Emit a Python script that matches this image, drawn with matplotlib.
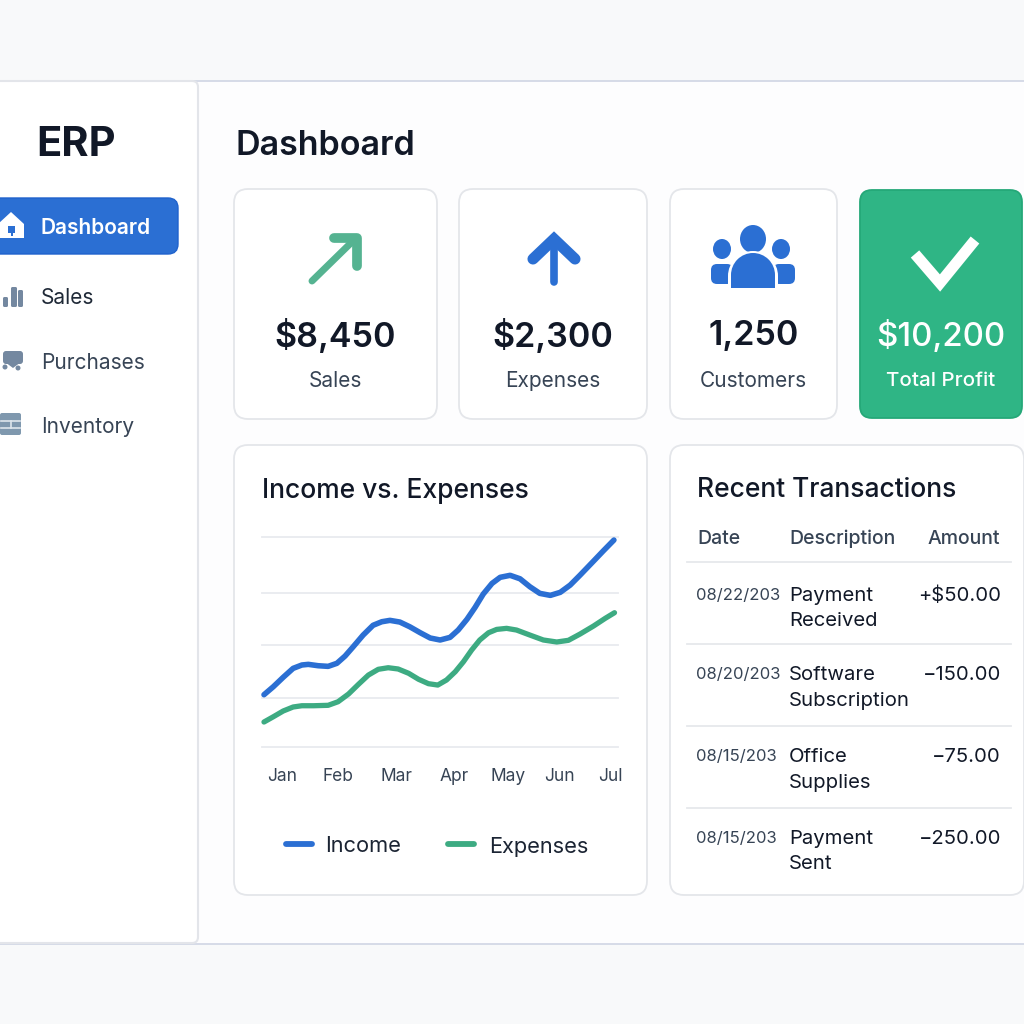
# -*- coding: utf-8 -*-
import matplotlib
matplotlib.use('Agg')
import matplotlib.pyplot as plt
from matplotlib.patches import FancyBboxPatch, Rectangle, Circle, Ellipse, Polygon, Wedge

plt.rcParams['font.family'] = ['Inter', 'DejaVu Sans']

# chart data
months = ['Jan', 'Feb', 'Mar', 'Apr', 'May', 'Jun', 'Jul']
month_ticks = [0.31, 1.27, 2.27, 3.26, 4.19, 5.06, 5.94]
grid_values = [0, 47, 97, 147, 200]

income_x = [0, .16, .33, .50, .65, .76, .93, 1.10, 1.25, 1.39, 1.53, 1.70, 1.87, 2.02, 2.16, 2.33, 2.50, 2.68, 2.85,
            3.02, 3.19, 3.33, 3.48, 3.62, 3.76, 3.91, 4.05, 4.22, 4.39, 4.56, 4.73, 4.91, 5.08, 5.25, 5.42, 5.65, 5.82, 6.0]
income_y = [49.8, 57.4, 66.4, 74.9, 78.1, 78.7, 77.4, 76.8, 79.7, 86.6, 95.5, 106.6, 115.9, 119.3, 120.6, 119, 114.5, 108.8, 103.8,
            101.9, 104.4, 111.4, 121.6, 133, 145.7, 155.8, 161.6, 163.5, 160.2, 152.6, 146.3, 144.4, 147.3, 154.2, 163.7, 177, 186.9, 197.1]
expenses_x = [0, .16, .33, .50, .65, .85, 1.10, 1.27, 1.45, 1.62, 1.79, 1.96, 2.13, 2.30, 2.48, 2.65, 2.82, 2.98,
              3.13, 3.28, 3.42, 3.56, 3.70, 3.85, 3.99, 4.16, 4.33, 4.56, 4.79, 5.02, 5.22, 5.42, 5.65, 5.85, 6.01]
expenses_y = [23.8, 28.8, 34.3, 38.1, 39.3, 39.3, 39.7, 43.1, 50.5, 59.7, 68.5, 74, 75.5, 74.3, 70.2, 64.5, 60.3, 59,
              63.8, 71.7, 81.2, 92.3, 101.9, 108.8, 112, 113, 111.4, 106.6, 101.9, 100, 101.6, 107.6, 115.2, 122.5, 127.9]

# cards and table
kpi_values = ['$8,450', '$2,300', '1,250', '$10,200']
kpi_labels = ['Sales', 'Expenses', 'Customers', 'Total Profit']
nav_items = ['Dashboard', 'Sales', 'Purchases', 'Inventory']
tx_dates = ['08/22/203', '08/20/203', '08/15/203', '08/15/203']
tx_desc = [['Payment', 'Received'], ['Software', 'Subscription'], ['Office', 'Supplies'], ['Payment', 'Sent']]
tx_amounts = ['+$50.00', '\u2212150.00', '\u221275.00', '\u2212250.00']

BLUE = '#2b6fd3'
GREEN = '#2fb585'
LINE_GREEN = '#3dab82'
DARK = '#111827'
SLATE = '#374455'
BORDER = '#e4e6ea'
ICON = '#7488a0'

fig = plt.figure(figsize=(10.24, 10.24), dpi=100, facecolor='#f8f9fa')
bg = fig.add_axes([0, 0, 1, 1])
bg.set_xlim(0, 1024)
bg.set_ylim(1024, 0)
bg.axis('off')


def box(x0, y0, x1, y1, r, fc='white', ec=BORDER, lw=1.3, z=2):
    p = FancyBboxPatch((x0 + r, y0 + r), x1 - x0 - 2 * r, y1 - y0 - 2 * r,
                       boxstyle='round,pad=%s,rounding_size=%s' % (r, r),
                       fc=fc, ec=ec, lw=lw, zorder=z)
    bg.add_patch(p)


def txt(x, y, s, size, color=DARK, weight='normal', ha='left', va='center'):
    # Inter sits a bit high with va=center, push it down by its size
    bg.text(x, y + size * 0.14, s, fontsize=size, color=color, fontweight=weight, ha=ha, va=va,
            parse_math=False, zorder=5)


# window panel
bg.add_patch(Rectangle((-5, 80.5), 1040, 863, fc='#fdfdfe', ec='#d3d8e6', lw=1.3, zorder=1))
box(-20, 81, 198, 943, 6, ec='#e3e5ea', lw=1.5)

# sidebar
txt(76, 141, 'ERP', 30, DARK, 'bold', ha='center')
box(-20, 198, 178, 254, 10, fc=BLUE, ec='#1f62cc', lw=1)
nav_y = [226, 296, 361, 425]
nav_colors = ['white', '#1f2937', SLATE, SLATE]
for name, y, c in zip(nav_items, nav_y, nav_colors):
    txt(41, y, name, 15, c, 'semibold' if name == 'Dashboard' else 'normal')

# nav icons
bg.add_patch(Polygon([(-2, 224), (11, 212), (24, 224), (24, 238), (-2, 238)], fc='white', ec='none', zorder=5))
bg.add_patch(Rectangle((8, 226), 7, 7, fc=BLUE, ec='none', zorder=6))
bg.add_patch(Rectangle((11, 233), 2, 3, fc=BLUE, ec='none', zorder=6))
for x0, top, w in [(3, 297, 5), (11, 287, 6), (18, 290, 5)]:
    box(x0, top, x0 + w, 307, 1.5, fc=ICON, ec='none', z=5)
box(3, 351, 23, 364, 3, fc=ICON, ec='none', z=5)
bg.add_patch(Polygon([(5, 362), (21, 362), (13, 368)], fc=ICON, ec='none', zorder=5))
bg.add_patch(Circle((5, 367), 2.5, fc=ICON, ec='none', zorder=5))
bg.add_patch(Circle((18, 368), 2.5, fc=ICON, ec='none', zorder=5))
box(0, 413, 21, 435, 2, fc='#7f98ae', ec='none', z=5)
bg.plot([1, 20], [421, 421], color='#dde5ec', lw=1.2, zorder=6)
bg.plot([1, 20], [428, 428], color='#dde5ec', lw=1.2, zorder=6)
bg.plot([10.5, 10.5], [421, 428], color='#dde5ec', lw=1.2, zorder=6)

# header
txt(236, 143, 'Dashboard', 24.5, DARK, 'semibold')

# kpi cards
card_x = [(234, 437), (459, 647), (670, 837)]
for (x0, x1), v, lab in zip(card_x, kpi_values[:3], kpi_labels[:3]):
    box(x0, 189, x1, 419, 14)
    xc = (x0 + x1) / 2
    txt(xc, 333, v, 24.5, DARK, 'semibold', ha='center')
    txt(xc, 379, lab, 15, SLATE, ha='center')
box(860, 190, 1022, 418, 12, fc=GREEN, ec='#25a878')
txt(941, 333, kpi_values[3], 23.8, 'white', 'medium', ha='center')
txt(941, 379, kpi_labels[3], 14.8, 'white', 'medium', ha='center')

# kpi icons
ARROW_G = '#55b391'
bg.plot([312, 356], [281, 238], color=ARROW_G, lw=5, solid_capstyle='round', zorder=5)
bg.plot([334, 357, 357], [238, 238, 266], color=ARROW_G, lw=7, solid_capstyle='round',
        solid_joinstyle='round', zorder=5)
bg.plot([554, 554], [242, 282], color=BLUE, lw=5.5, solid_capstyle='round', zorder=5)
bg.plot([533, 554, 575], [259, 239, 259], color=BLUE, lw=8, solid_capstyle='round',
        solid_joinstyle='miter', zorder=5)
bg.add_patch(Ellipse((753, 239), 26, 28, fc=BLUE, ec='none', zorder=5))
bg.add_patch(Ellipse((722, 249), 18, 20, fc=BLUE, ec='none', zorder=5))
bg.add_patch(Ellipse((781, 249), 18, 20, fc=BLUE, ec='none', zorder=5))
box(711, 264, 733, 284, 6, fc=BLUE, ec='none', z=5)
box(773, 264, 795, 284, 6, fc=BLUE, ec='none', z=5)
bg.add_patch(Wedge((753, 276), 25, 180, 360, fc='white', ec='none', zorder=6))
bg.add_patch(Rectangle((728, 276), 50, 14, fc='white', ec='none', zorder=6))
bg.add_patch(Wedge((753, 275), 22, 180, 360, fc=BLUE, ec='none', zorder=7))
bg.add_patch(Rectangle((731, 275), 44, 13, fc=BLUE, ec='none', zorder=7))
bg.plot([915, 940, 975], [254, 283, 240], color='white', lw=8, solid_capstyle='butt',
        solid_joinstyle='miter', zorder=5)

# lower cards
box(234, 445, 647, 895, 14)
box(670, 445, 1024, 895, 14)
txt(262, 488, 'Income vs. Expenses', 19, DARK, 'medium')
txt(697, 487, 'Recent Transactions', 19, DARK, 'medium')

# line chart
ax = fig.add_axes([262 / 1024, 1 - 747 / 1024, (618 - 262) / 1024, (747 - 537) / 1024], zorder=3)
ax.patch.set_alpha(0)
ax.set_xlim(-0.034, 6.07)
ax.set_ylim(0, 200)
ax.set_yticks(grid_values)
ax.set_yticklabels([])
ax.set_xticks(month_ticks)
ax.set_xticklabels(months, fontsize=12.5, color=SLATE)
ax.tick_params(axis='both', length=0)
ax.tick_params(axis='x', pad=15)
ax.grid(axis='y', color='#e8eaef', lw=1.3)
for s in ax.spines.values():
    s.set_visible(False)
for g in ax.get_ygridlines():
    g.set_clip_on(False)
ax.plot(income_x, income_y, color=BLUE, lw=4, solid_capstyle='round', solid_joinstyle='round', clip_on=False, zorder=4)
ax.plot(expenses_x, expenses_y, color=LINE_GREEN, lw=3.8, solid_capstyle='round', solid_joinstyle='round', clip_on=False, zorder=4)

# legend, placed by hand to keep the gap of the reference
bg.plot([286, 312], [844, 844], color=BLUE, lw=4.2, solid_capstyle='round', zorder=5)
bg.plot([448, 474], [844, 844], color=LINE_GREEN, lw=4.2, solid_capstyle='round', zorder=5)
txt(325, 844, 'Income', 15.7, '#1b2433')
txt(489, 845, 'Expenses', 15.7, '#1b2433')

# table
txt(697, 537, 'Date', 14, SLATE, 'medium')
txt(789, 537, 'Description', 14, SLATE, 'medium')
txt(1000, 537, 'Amount', 14, SLATE, 'medium', ha='right')
for y in [562, 644, 726, 808]:
    bg.plot([687, 1011], [y, y], color='#e6e8ec', lw=1.3, zorder=4)
row_y = [594, 673, 755, 837]
row_gap = [25, 26, 26, 25]
for y, gap, d, desc, amt in zip(row_y, row_gap, tx_dates, tx_desc, tx_amounts):
    txt(696, y, d, 12, SLATE)
    txt(789, y, desc[0], 14.6, '#111827')
    txt(789, y + gap, desc[1], 14.6, '#111827')
    txt(1001, y, amt, 14.6, '#111827', ha='right')

fig.savefig('out.png', dpi=100, facecolor=fig.get_facecolor())
